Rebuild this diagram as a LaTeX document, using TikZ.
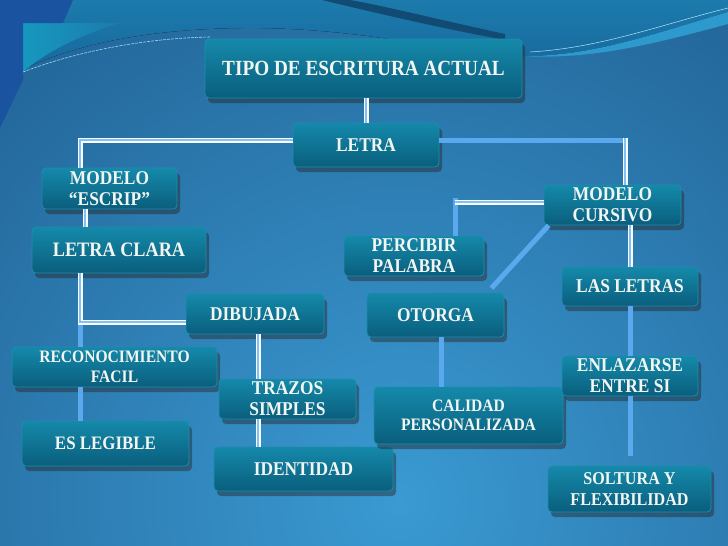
\documentclass[tikz,border=0pt]{standalone}
\usepackage{fontspec}
\setmainfont{Liberation Serif}[FakeStretch=0.89]
\usepackage{tikz}
\usetikzlibrary{positioning,calc,shadows}

\begin{document}
\begin{tikzpicture}[x=1pt,y=-1pt,line cap=butt,line join=miter,
	caja/.style={rounded corners=4pt,top color=cajaA,bottom color=cajaB,draw=cajaC,line width=0.8pt,
		drop shadow={shadow xshift=3pt,shadow yshift=-5pt,opacity=0.45,fill=black!85},
		text=texto,font=\bfseries\fontsize{19.5}{21}\selectfont,align=center,inner sep=0pt},
	wire/.style={draw=white,double=lineaB,line width=1.3pt,double distance=2.4pt},
	barra/.style={draw=lineaA,line width=5pt}]
	\definecolor{fondoA}{HTML}{3A9AD2}
	\definecolor{fondoB}{HTML}{16497A}
	\definecolor{ondaA}{HTML}{1C7BAC}
	\definecolor{ondaB}{HTML}{17649A}
	\definecolor{cajaA}{HTML}{1589AA}
	\definecolor{cajaB}{HTML}{0A5E7D}
	\definecolor{cajaC}{HTML}{1C8EAE}
	\definecolor{lineaA}{HTML}{5AA8EE}
	\definecolor{lineaB}{HTML}{7DC3F5}
	\definecolor{texto}{HTML}{F2F6F2}
	\definecolor{marco}{HTML}{1A53A0}
	
	\useasboundingbox (0,0) rectangle (728,546);
	
	% background
	\begin{scope}
		\clip (0,0) rectangle (728,546);
		\shade[inner color=fondoA,outer color=fondoB] (-520,-420) rectangle (1320,1420);
		% swoosh on top
		\fill[top color=ondaA,bottom color=ondaB] (0,0) -- (728,0) -- (728,12)
		.. controls (650,35) and (590,57) .. (520,56)
		.. controls (450,54) and (380,30) .. (260,28)
		.. controls (150,27) and (60,45) .. (0,82) -- cycle;
		\shade[left color=ondaA!78!cyan,right color=ondaA] (23,23) -- (120,23)
		.. controls (90,32) and (50,48) .. (23,72) -- cycle;
		\fill[ondaB!75!black] (322,0) .. controls (380,14) and (440,28) .. (505,40)
		-- (505,34) .. controls (440,20) and (385,6) .. (350,0) -- cycle;
		\fill[cyan!55!ondaA] (520,56) .. controls (590,57) and (650,35) .. (728,12)
		-- (728,24) .. controls (650,45) and (590,60) .. (520,56) -- cycle;
		\draw[cyan!30!white,line width=0.5pt] (530,52) .. controls (600,48) and (660,25) .. (728,8);
		\draw[cyan!40!white,line width=0.6pt,dash pattern=on 3pt off 1pt]
		(23,72) .. controls (80,50) and (150,38) .. (210,37);
		% frame in the corner
		\fill[marco] (0,0) -- (73,0) -- (63,23) -- (23,23) -- (23,80) -- (0,128) -- cycle;
	\end{scope}
	
	% boxes
	\node[caja,minimum width=317pt,minimum height=59pt,font=\bfseries\fontsize{21.6}{23}\selectfont]
	(tipo) at (363.5,68.5) {TIPO DE ESCRITURA ACTUAL};
	\node[caja,minimum width=146pt,minimum height=44pt] (letra) at (366,145) {LETRA};
	\node[caja,minimum width=135pt,minimum height=41pt] (escrip) at (109.5,188.5) {MODELO\\“ESCRIP”};
	\node[caja,minimum width=174pt,minimum height=46pt,font=\bfseries\fontsize{20.5}{22}\selectfont]
	(clara) at (119,250) {LETRA CLARA};
	\node[caja,minimum width=138pt,minimum height=40pt] (dibujada) at (255,314) {DIBUJADA};
	\node[caja,minimum width=205pt,minimum height=40pt,font=\bfseries\fontsize{17.5}{20}\selectfont]
	(recon) at (114.5,367) {RECONOCIMIENTO\\FACIL};
	\node[caja,minimum width=167pt,minimum height=45pt,font=\bfseries\fontsize{19}{21}\selectfont]
	(legible) at (105.5,443.5) {ES LEGIBLE};
	\node[caja,minimum width=137pt,minimum height=40pt] (trazos) at (287.5,399) {TRAZOS\\SIMPLES};
	\node[caja,minimum width=179pt,minimum height=44pt] (identidad) at (303.5,469) {IDENTIDAD};
	\node[caja,minimum width=137pt,minimum height=40pt] (cursivo) at (612.5,205) {MODELO\\CURSIVO};
	\node[caja,minimum width=140pt,minimum height=40pt] (percibir) at (414,256) {PERCIBIR\\PALABRA};
	\node[caja,minimum width=137pt,minimum height=44pt] (otorga) at (435.5,315) {OTORGA};
	\node[caja,minimum width=189pt,minimum height=57pt,font=\bfseries\fontsize{17.5}{19}\selectfont]
	(calidad) at (468.5,415.5) {CALIDAD\\PERSONALIZADA};
	\node[caja,minimum width=136pt,minimum height=39pt] (letras) at (630,286.5) {LAS LETRAS};
	\node[caja,minimum width=136pt,minimum height=40pt] (enlazar) at (630,376) {ENLAZARSE\\ENTRE SI};
	\node[caja,minimum width=163pt,minimum height=46pt,font=\bfseries\fontsize{18.1}{21}\selectfont]
	(soltura) at (629.5,489) {SOLTURA Y\\FLEXIBILIDAD};
	
	% bends of the connectors
	\coordinate (c1) at (80,140);
	\coordinate (c2) at (625,140);
	\coordinate (c3) at (85,0);
	\coordinate (c4) at (80,322);
	\coordinate (c5) at (258,0);
	\coordinate (c6) at (455,202);
	\coordinate (c7) at (441,0);
	
	% connectors
	\draw[wire] (letra.north |- tipo.south) -- (letra.north);
	\draw[wire] (letra.west |- c1) -- (c1) -- (c1 |- escrip.north);
	\draw[barra] (letra.east |- c2) -- (c2);
	\draw[wire] ([yshift=2.5pt]c2) -- (c2 |- cursivo.north);
	\draw[wire] (escrip.south -| c3) -- (clara.north -| c3);
	\draw[barra] ([yshift=-2.5pt]c4) -- (c4 |- recon.north);
	\draw[barra] (recon.south -| c4) -- (legible.north -| c4);
	\draw[wire] (clara.south -| c4) -- (c4) -- (c4 -| dibujada.west);
	\draw[wire] (dibujada.south -| c5) -- (trazos.north -| c5);
	\draw[wire] (trazos.south -| c5) -- (identidad.north -| c5);
	\draw[barra] ([yshift=4pt]c6) -- (c6 |- percibir.north);
	\draw[wire] (cursivo.west |- c6) -- (c6);
	\draw[barra,shorten >=6pt] ([xshift=5pt]cursivo.south west) -- ([xshift=-17pt]otorga.north east);
	\draw[barra] (otorga.south -| c7) -- (calidad.north -| c7);
	\draw[wire] (letras.north |- cursivo.south) -- (letras.north);
	\draw[barra] (letras.south) -- (enlazar.north);
	\draw[barra,shorten >=10pt] (enlazar.south) -- (soltura.north -| enlazar);
\end{tikzpicture}
\end{document}
